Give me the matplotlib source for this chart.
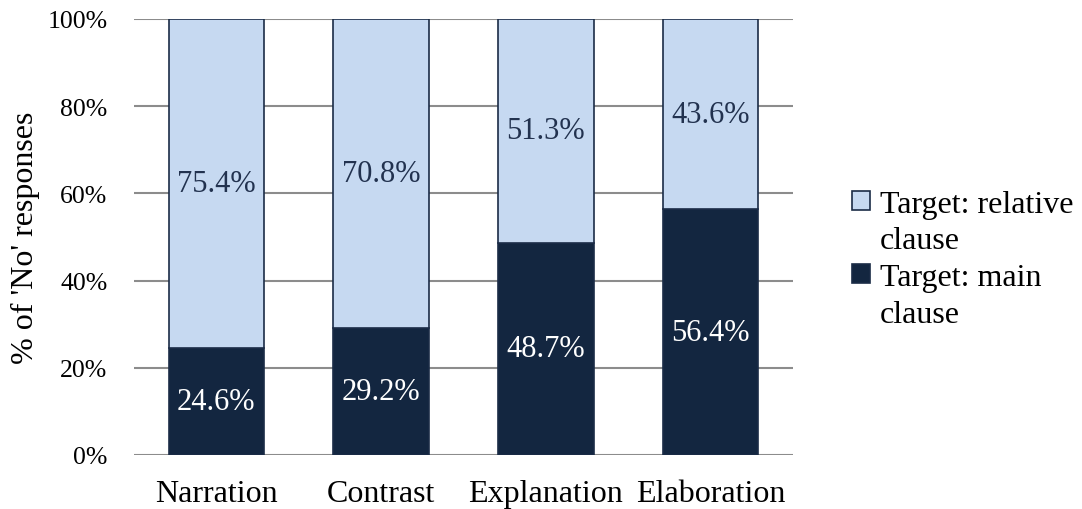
#!/usr/bin/env python3
import matplotlib

matplotlib.use("Agg")
import matplotlib.pyplot as plt
from matplotlib.patches import Patch
from matplotlib.ticker import PercentFormatter

categories = ["Narration", "Contrast", "Explanation", "Elaboration"]
main_clause = [24.6, 29.2, 48.7, 56.4]
relative_clause = [75.4, 70.8, 51.3, 43.6]
y_ticks = [0, 20, 40, 60, 80, 100]

LIGHT = "#c6d9f1"
DARK = "#132640"
EDGE = "#1b2c47"
GRID = "#8c8c8c"

plt.rcParams["font.family"] = ["Liberation Serif", "DejaVu Serif"]

fig = plt.figure(figsize=(10.82, 5.10), dpi=100)
ax = fig.add_axes([0.1238, 0.1059, 0.6091, 0.8549])

x = list(range(len(categories)))
bar_w = 0.58
ax.bar(x, main_clause, width=bar_w, color=DARK, edgecolor=EDGE, linewidth=1.2, zorder=3)
ax.bar(x, relative_clause, width=bar_w, bottom=main_clause, color=LIGHT,
       edgecolor=EDGE, linewidth=1.2, zorder=3)

# value labels centred in each segment
for i, (m, r) in enumerate(zip(main_clause, relative_clause)):
    ax.text(i, m / 2, f"{m:.1f}%", ha="center", va="center", fontsize=22,
            color="white", zorder=4)
    ax.text(i, m + r / 2, f"{r:.1f}%", ha="center", va="center", fontsize=22,
            color="#22324f", zorder=4)

ax.set_xlim(-0.5, len(categories) - 0.5)
ax.set_ylim(0, 100)
ax.set_yticks(y_ticks)
ax.yaxis.set_major_formatter(PercentFormatter(decimals=0))
ax.set_xticks(x)
ax.set_xticklabels(categories)
ax.tick_params(axis="y", length=0, pad=19, labelsize=18.5)
ax.tick_params(axis="x", length=0, pad=17, labelsize=23)
ax.grid(axis="y", color=GRID, linewidth=1.5, zorder=0)
for side in ["top", "right", "left", "bottom"]:
    ax.spines[side].set_visible(False)

ax.set_ylabel("% of 'No' responses", fontsize=23, va="center")
ax.yaxis.set_label_coords(-0.164, 0.5)

blank = Patch(facecolor="none", edgecolor="none")
handles = [
    Patch(facecolor=LIGHT, edgecolor=EDGE, linewidth=1.2),
    blank,
    Patch(facecolor=DARK, edgecolor=EDGE, linewidth=1.2),
    blank,
]
labels = ["Target: relative", "clause", "Target: main", "clause"]
ax.legend(handles, labels, loc="center left", bbox_to_anchor=(1.09, 0.449),
          frameon=False, fontsize=23, handlelength=0.56, handleheight=0.56,
          handletextpad=0.3, labelspacing=0.24, borderpad=0, borderaxespad=0)

fig.savefig("out.png", dpi=100)
